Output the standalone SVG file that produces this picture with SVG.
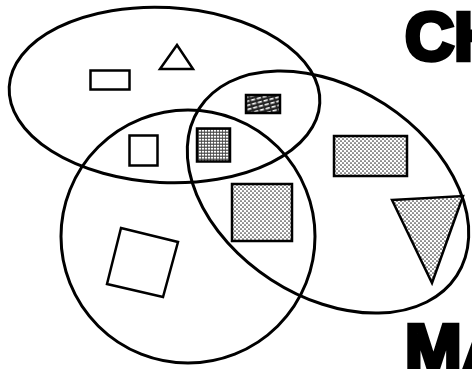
<svg xmlns="http://www.w3.org/2000/svg" width="472" height="369" viewBox="0 0 472 369">
<style>
.set{fill:none;stroke:#000;stroke-width:3}
.shape{stroke:#000;stroke-width:2.5;stroke-linejoin:miter}
.open{fill:#fff}
.dots{fill:url(#dots)}
.grid{fill:url(#grid)}
.hatch{fill:url(#hatch)}
.title{font-family:"Liberation Sans",Arial,sans-serif;font-weight:bold;font-size:68px;fill:#000;stroke:#000;stroke-width:4.5}
</style>
<defs>
<pattern id="dots" width="4" height="4" patternUnits="userSpaceOnUse">
<rect width="4" height="4" fill="#fff"/>
<circle cx="1" cy="1" r="0.85" fill="#333"/>
<circle cx="3" cy="3" r="0.85" fill="#333"/>
</pattern>
<pattern id="grid" width="3" height="3" patternUnits="userSpaceOnUse">
<rect width="3" height="3" fill="#444"/>
<rect x="0.8" y="0.8" width="2.2" height="1.8" fill="#fff"/>
</pattern>
<pattern id="hatch" width="6" height="4" patternUnits="userSpaceOnUse" patternTransform="rotate(-15)">
<rect width="6" height="4" fill="#222"/>
<rect x="0.5" y="1" width="4.2" height="1.6" fill="#fff"/>
</pattern>
</defs>
<g id="sets">
<ellipse id="set-top" class="set" cx="164.5" cy="95" rx="155.5" ry="87.5" transform="rotate(3 164.5 95)"/>
<ellipse id="set-left" class="set" cx="188" cy="236.5" rx="127" ry="126.5"/>
<ellipse id="set-right" class="set" cx="328" cy="192" rx="153.5" ry="104.5" transform="rotate(33 328 192)"/>
</g>
<g id="shape-rect-small"><rect class="shape open" x="90.5" y="70.5" width="39" height="19"/></g>
<g id="shape-triangle-open"><polygon class="shape open" points="177,45 193,69 160,69"/></g>
<g id="shape-hatch-rect"><rect class="shape hatch" x="246" y="95" width="34" height="18"/></g>
<g id="shape-square-open"><rect class="shape open" x="129.5" y="135.5" width="28" height="30"/></g>
<g id="shape-grid-square"><rect class="shape grid" x="197" y="128.5" width="33" height="33"/></g>
<g id="shape-dot-square"><rect class="shape dots" x="232" y="184" width="60" height="57"/></g>
<g id="shape-dot-rect"><rect class="shape dots" x="334" y="136" width="73" height="40"/></g>
<g id="shape-dot-triangle"><polygon class="shape dots" points="392,200 463,196 432,283"/></g>
<g id="shape-rot-square"><polygon class="shape open" points="121,228 178,242 163,297 107,284"/></g>
<text class="title" x="405" y="60">CH</text>
<text class="title" x="405" y="372">MA</text>
</svg>
